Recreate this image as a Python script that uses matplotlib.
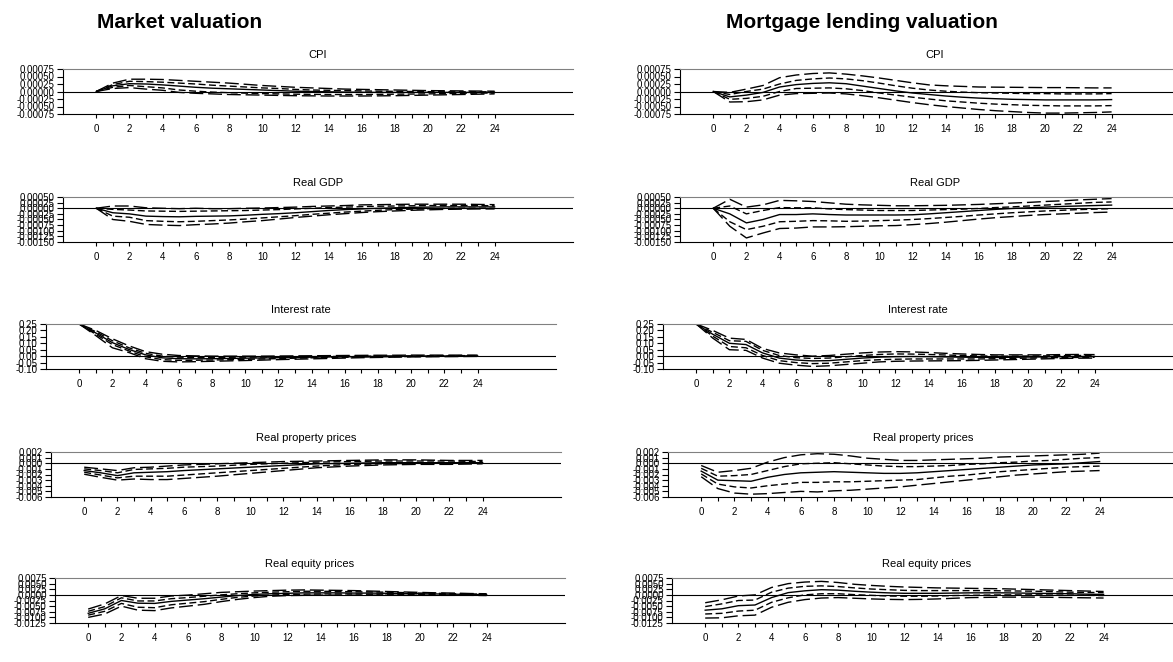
import numpy as np
import matplotlib
matplotlib.use('Agg')
import matplotlib.pyplot as plt

plt.rcParams['font.family'] = ['Liberation Sans', 'DejaVu Sans']

horizon = np.arange(25)

# ---- CPI (x 1e-4) ----
cpi_mkt_hi  = np.array([0, 2.8, 4.1, 4.1, 4.0, 3.7, 3.4, 3.1, 2.8, 2.4, 2.0, 1.7, 1.4, 1.2, 1.0, 0.8, 0.7, 0.6, 0.5, 0.4, 0.3, 0.25, 0.2, 0.15, 0.1]) * 1e-4
cpi_mkt_ihi = np.array([0, 2.3, 3.4, 3.3, 3.1, 2.8, 2.5, 2.1, 1.8, 1.5, 1.2, 1.0, 0.7, 0.5, 0.4, 0.3, 0.2, 0.1, 0.05, 0, -0.05, -0.1, -0.1, -0.1, -0.1]) * 1e-4
cpi_mkt_med = np.array([0, 1.9, 2.6, 2.5, 2.2, 1.8, 1.4, 1.1, 0.9, 0.7, 0.5, 0.3, 0.1, 0, -0.1, -0.2, -0.25, -0.3, -0.3, -0.3, -0.3, -0.3, -0.3, -0.3, -0.3]) * 1e-4
cpi_mkt_ilo = np.array([0, 1.4, 2.0, 1.6, 1.2, 0.5, 0.1, -0.2, -0.4, -0.55, -0.7, -0.8, -0.9, -0.95, -1.0, -1.0, -1.0, -0.95, -0.9, -0.85, -0.8, -0.7, -0.6, -0.55, -0.5]) * 1e-4
cpi_mkt_lo  = np.array([0, 1.0, 1.3, 0.8, 0.4, -0.3, -0.6, -0.8, -1.0, -1.1, -1.2, -1.3, -1.4, -1.45, -1.5, -1.5, -1.5, -1.45, -1.4, -1.3, -1.2, -1.1, -1.0, -0.9, -0.8]) * 1e-4

cpi_mlv_hi  = np.array([0, -0.3, 0.8, 2.0, 4.6, 5.5, 6.0, 6.2, 5.8, 5.2, 4.5, 3.7, 2.9, 2.2, 1.9, 1.7, 1.5, 1.45, 1.4, 1.35, 1.3, 1.3, 1.25, 1.2, 1.2]) * 1e-4
cpi_mlv_ihi = np.array([0, -1.0, 0.0, 0.8, 2.5, 3.7, 4.2, 4.5, 4.2, 3.6, 2.8, 1.9, 1.1, 0.5, 0.1, -0.2, -0.4, -0.5, -0.6, -0.7, -0.7, -0.8, -0.8, -0.8, -0.7]) * 1e-4
cpi_mlv_med = np.array([0, -1.8, -1.2, -0.3, 1.5, 2.3, 2.7, 2.9, 2.6, 1.8, 1.0, 0.2, -0.5, -1.0, -1.5, -1.9, -2.2, -2.4, -2.6, -2.7, -2.8, -2.8, -2.8, -2.8, -2.7]) * 1e-4
cpi_mlv_ilo = np.array([0, -2.6, -2.3, -1.6, 0.0, 1.0, 1.1, 1.2, 0.9, 0.3, -0.5, -1.2, -1.9, -2.5, -3.1, -3.5, -3.9, -4.2, -4.4, -4.6, -4.7, -4.8, -4.8, -4.8, -4.7]) * 1e-4
cpi_mlv_lo  = np.array([0, -3.5, -3.4, -2.8, -1.2, -0.7, -0.6, -0.5, -0.8, -1.4, -2.1, -2.9, -3.7, -4.4, -5.0, -5.5, -6.0, -6.4, -6.7, -7.0, -7.2, -7.2, -7.1, -7.0, -6.8]) * 1e-4

# ---- Real GDP (x 1e-4) ----
gdp_mkt_hi  = np.array([0, 1.0, 1.0, 0.2, 0.0, -0.2, 0.0, -0.2, -0.2, 0.0, 0.1, 0.3, 0.5, 0.8, 1.0, 1.2, 1.5, 1.6, 1.7, 1.8, 1.8, 1.8, 1.8, 1.7, 1.6]) * 1e-4
gdp_mkt_ihi = np.array([0, -0.5, -0.8, -1.2, -1.3, -1.4, -1.3, -1.2, -1.1, -1.0, -0.8, -0.6, -0.3, 0.0, 0.3, 0.5, 0.7, 0.9, 1.0, 1.1, 1.2, 1.2, 1.2, 1.2, 1.1]) * 1e-4
gdp_mkt_med = np.array([0, -2.0, -2.5, -3.5, -3.7, -3.8, -3.6, -3.5, -3.4, -3.1, -2.7, -2.4, -2.0, -1.5, -1.0, -0.6, -0.3, 0.0, 0.2, 0.4, 0.5, 0.6, 0.6, 0.6, 0.6]) * 1e-4
gdp_mkt_ilo = np.array([0, -3.5, -4.0, -5.5, -5.8, -6.0, -5.8, -5.5, -5.2, -4.8, -4.3, -3.8, -3.3, -2.7, -2.2, -1.7, -1.3, -0.9, -0.6, -0.4, -0.2, -0.1, 0.0, 0.0, 0.0]) * 1e-4
gdp_mkt_lo  = np.array([0, -5.0, -5.8, -7.2, -7.5, -7.7, -7.3, -7.0, -6.6, -6.0, -5.5, -4.8, -4.1, -3.5, -2.9, -2.4, -1.9, -1.5, -1.2, -0.9, -0.7, -0.5, -0.4, -0.3, -0.3]) * 1e-4

gdp_mlv_hi  = np.array([0, 4.0, 0.5, 1.5, 3.5, 3.3, 3.0, 2.4, 1.8, 1.5, 1.3, 1.1, 1.1, 1.2, 1.3, 1.5, 1.7, 2.0, 2.3, 2.6, 3.0, 3.3, 3.7, 4.0, 4.3]) * 1e-4
gdp_mlv_ihi = np.array([0, 1.0, -2.5, -1.0, 0.3, 0.2, 0.2, -0.3, -0.6, -0.8, -1.0, -1.0, -1.0, -0.8, -0.6, -0.4, -0.1, 0.3, 0.6, 1.0, 1.4, 1.8, 2.2, 2.6, 2.8]) * 1e-4
gdp_mlv_med = np.array([0, -2.5, -6.5, -5.0, -2.8, -2.8, -2.5, -2.8, -3.0, -3.0, -3.0, -3.0, -2.9, -2.5, -2.0, -1.5, -1.0, -0.5, -0.1, 0.2, 0.5, 0.8, 1.0, 1.2, 1.4]) * 1e-4
gdp_mlv_ilo = np.array([0, -6.0, -9.5, -8.0, -6.0, -5.8, -5.5, -5.6, -5.8, -5.7, -5.5, -5.3, -5.0, -4.6, -4.1, -3.6, -3.0, -2.5, -2.0, -1.6, -1.2, -0.9, -0.6, -0.4, -0.2]) * 1e-4
gdp_mlv_lo  = np.array([0, -8.0, -13.2, -11.0, -9.0, -8.8, -8.3, -8.3, -8.2, -8.0, -7.8, -7.7, -7.3, -6.8, -6.2, -5.5, -4.8, -4.2, -3.7, -3.2, -2.8, -2.5, -2.2, -1.9, -1.7]) * 1e-4

# ---- Interest rate ----
int_mkt_hi  = [0.25, 0.20, 0.135, 0.08, 0.035, 0.015, 0.005, 0.002, 0.0, 0.0, 0.0, 0.0, 0.001, 0.002, 0.003, 0.004, 0.005, 0.006, 0.007, 0.007, 0.008, 0.008, 0.008, 0.008, 0.008]
int_mkt_ihi = [0.25, 0.19, 0.12, 0.065, 0.022, 0.0, -0.008, -0.01, -0.01, -0.009, -0.008, -0.007, -0.006, -0.005, -0.004, -0.003, -0.002, -0.001, 0.0, 0.001, 0.002, 0.003, 0.003, 0.004, 0.004]
int_mkt_med = [0.25, 0.18, 0.105, 0.052, 0.01, -0.013, -0.02, -0.021, -0.02, -0.018, -0.016, -0.014, -0.012, -0.01, -0.008, -0.006, -0.005, -0.003, -0.002, -0.001, 0.0, 0.001, 0.001, 0.002, 0.002]
int_mkt_ilo = [0.25, 0.17, 0.09, 0.04, -0.005, -0.027, -0.033, -0.032, -0.03, -0.028, -0.025, -0.022, -0.019, -0.016, -0.013, -0.011, -0.009, -0.007, -0.005, -0.004, -0.003, -0.002, -0.001, -0.001, 0.0]
int_mkt_lo  = [0.25, 0.16, 0.065, 0.028, -0.02, -0.04, -0.045, -0.043, -0.04, -0.037, -0.034, -0.031, -0.027, -0.024, -0.021, -0.018, -0.015, -0.012, -0.01, -0.008, -0.006, -0.005, -0.004, -0.003, -0.002]

int_mlv_hi  = [0.25, 0.20, 0.14, 0.13, 0.06, 0.025, 0.01, 0.0, 0.005, 0.015, 0.025, 0.032, 0.035, 0.033, 0.028, 0.022, 0.017, 0.013, 0.01, 0.01, 0.01, 0.01, 0.012, 0.013, 0.012]
int_mlv_ihi = [0.25, 0.185, 0.12, 0.115, 0.045, 0.005, -0.012, -0.018, -0.015, -0.005, 0.005, 0.013, 0.017, 0.016, 0.013, 0.009, 0.005, 0.002, 0.0, 0.0, 0.001, 0.002, 0.004, 0.005, 0.005]
int_mlv_med = [0.25, 0.17, 0.10, 0.09, 0.025, -0.015, -0.03, -0.037, -0.035, -0.025, -0.015, -0.008, -0.004, -0.003, -0.004, -0.006, -0.008, -0.009, -0.01, -0.009, -0.007, -0.006, -0.004, -0.003, -0.002]
int_mlv_ilo = [0.25, 0.155, 0.075, 0.065, 0.005, -0.035, -0.05, -0.058, -0.055, -0.045, -0.035, -0.028, -0.024, -0.022, -0.022, -0.022, -0.022, -0.022, -0.02, -0.018, -0.015, -0.013, -0.011, -0.01, -0.009]
int_mlv_lo  = [0.25, 0.14, 0.05, 0.045, -0.015, -0.055, -0.07, -0.08, -0.075, -0.065, -0.055, -0.045, -0.04, -0.038, -0.037, -0.036, -0.035, -0.033, -0.03, -0.027, -0.024, -0.021, -0.018, -0.016, -0.015]

# ---- Real property prices (x 1e-4) ----
prop_mkt_hi  = np.array([-7, -10, -13, -8, -7, -5, -3, -2, -1, 0, 1, 2, 3, 3.5, 4, 4.5, 5, 5.5, 6, 6, 6, 5.5, 5, 5, 5]) * 1e-4
prop_mkt_ihi = np.array([-10, -13, -17, -11, -10, -9, -7, -6, -5, -3.5, -2, -1, 0, 1, 2, 2.5, 3, 3.5, 4, 4, 4, 4, 4, 3.5, 3]) * 1e-4
prop_mkt_med = np.array([-13, -17, -22, -17, -16, -15, -13, -11.5, -10, -8.5, -7, -5.5, -4, -2.5, -1, -0.5, 0, 0.5, 1, 1, 1, 1, 1, 1, 1]) * 1e-4
prop_mkt_ilo = np.array([-16, -21, -26, -23, -23, -23, -21, -19, -17, -15, -13, -11, -9, -7, -5, -3.5, -2, -1.5, -1, -0.5, 0, 0, 0, 0, 0]) * 1e-4
prop_mkt_lo  = np.array([-19.5, -25, -30, -28, -29, -29, -27, -25, -23, -20.5, -18, -15.5, -13, -10.5, -8, -6.5, -5, -4, -3, -2.5, -2, -2, -2, -1.5, -1]) * 1e-4

prop_mlv_hi  = np.array([-4, -16, -13, -9, 2, 10, 15, 17, 16, 13, 9, 7, 5, 5, 6, 7, 8, 9, 11, 12, 13, 14, 15, 16, 18]) * 1e-4
prop_mlv_ihi = np.array([-9, -23, -22, -20, -13, -6, -1, 0, 1, -1, -3, -5, -6, -6, -5, -4, -2, -1, 1, 2, 4, 5, 7, 9, 10]) * 1e-4
prop_mlv_med = np.array([-14, -30, -31, -32, -25, -20, -17, -16, -15, -16, -17, -18, -18, -17, -15, -13, -11, -9, -7, -5, -3, -2, -1, 1, 3]) * 1e-4
prop_mlv_ilo = np.array([-19, -37, -42, -44, -40, -37, -34, -34, -33, -33, -32, -31, -30, -29, -26, -23, -21, -18, -15, -13, -11, -9, -7, -6, -5]) * 1e-4
prop_mlv_lo  = np.array([-24, -45, -53, -55, -54, -52, -50, -51, -49, -48, -46, -44, -42, -39, -36, -33, -30, -27, -24, -21, -19, -17, -15, -14, -13]) * 1e-4

# ---- Real equity prices (x 1e-4) ----
eq_mkt_hi  = np.array([-63, -40, -3, -15, -15, -5, -1, 5, 11, 14, 17, 19, 21, 22, 21, 20, 19, 17, 15, 13, 11, 9, 8, 6, 5]) * 1e-4
eq_mkt_ihi = np.array([-73, -52, -13, -27, -27, -17, -12, -6, 0, 5, 9, 12, 14, 16, 16, 15, 14, 13, 12, 10, 8, 7, 5, 4, 3]) * 1e-4
eq_mkt_med = np.array([-82, -62, -25, -37, -38, -29, -23, -17, -10, -3, 2, 5, 7, 9, 9, 9, 8, 8, 7, 6, 5, 4, 3, 2, 1]) * 1e-4
eq_mkt_ilo = np.array([-90, -73, -38, -55, -57, -44, -37, -30, -20, -11, -5, -1, 2, 3, 4, 4, 4, 3, 3, 2, 2, 1, 1, 0, 0]) * 1e-4
eq_mkt_lo  = np.array([-100, -85, -50, -68, -70, -58, -50, -42, -30, -20, -12, -6, -3, -2, -1, -1, -1, -1, -1, -2, -2, -2, -2, -2, -3]) * 1e-4

eq_mlv_hi  = np.array([-35, -22, -5, 0, 33, 50, 57, 60, 55, 47, 42, 38, 35, 33, 31, 30, 29, 28, 27, 25, 23, 21, 19, 17, 15]) * 1e-4
eq_mlv_ihi = np.array([-52, -40, -25, -23, 12, 30, 38, 40, 37, 31, 26, 23, 20, 19, 19, 19, 19, 19, 18, 17, 16, 14, 12, 11, 10]) * 1e-4
eq_mlv_med = np.array([-68, -62, -48, -45, -12, 10, 18, 23, 21, 16, 12, 9, 7, 7, 7, 8, 9, 9, 9, 8, 7, 6, 5, 3, 2]) * 1e-4
eq_mlv_ilo = np.array([-85, -82, -72, -68, -33, -13, 0, 5, 5, 1, -2, -5, -6, -6, -5, -3, -2, -1, 0, 0, 0, -1, -1, -2, -3]) * 1e-4
eq_mlv_lo  = np.array([-103, -102, -93, -90, -55, -33, -21, -14, -12, -15, -18, -20, -21, -20, -18, -15, -12, -11, -10, -10, -10, -11, -12, -13, -14]) * 1e-4

panel_titles = ['CPI', 'Real GDP', 'Interest rate', 'Real property prices', 'Real equity prices']
column_titles = ['Market valuation', 'Mortgage lending valuation']

ytick_sets = [
    (np.arange(-3, 4) * 0.00025, '%.5f'),
    (np.arange(-6, 3) * 0.00025, '%.5f'),
    (np.arange(-2, 6) * 0.05, '%.2f'),
    (np.arange(-6, 3) * 0.001, '%.3f'),
    (np.arange(-5, 4) * 0.0025, '%.4f'),
]

market = [
    (cpi_mkt_hi, cpi_mkt_ihi, cpi_mkt_med, cpi_mkt_ilo, cpi_mkt_lo),
    (gdp_mkt_hi, gdp_mkt_ihi, gdp_mkt_med, gdp_mkt_ilo, gdp_mkt_lo),
    (int_mkt_hi, int_mkt_ihi, int_mkt_med, int_mkt_ilo, int_mkt_lo),
    (prop_mkt_hi, prop_mkt_ihi, prop_mkt_med, prop_mkt_ilo, prop_mkt_lo),
    (eq_mkt_hi, eq_mkt_ihi, eq_mkt_med, eq_mkt_ilo, eq_mkt_lo),
]
mortgage = [
    (cpi_mlv_hi, cpi_mlv_ihi, cpi_mlv_med, cpi_mlv_ilo, cpi_mlv_lo),
    (gdp_mlv_hi, gdp_mlv_ihi, gdp_mlv_med, gdp_mlv_ilo, gdp_mlv_lo),
    (int_mlv_hi, int_mlv_ihi, int_mlv_med, int_mlv_ilo, int_mlv_lo),
    (prop_mlv_hi, prop_mlv_ihi, prop_mlv_med, prop_mlv_ilo, prop_mlv_lo),
    (eq_mlv_hi, eq_mlv_ihi, eq_mlv_med, eq_mlv_ilo, eq_mlv_lo),
]

W, H = 1173, 662
fig = plt.figure(figsize=(W / 100, H / 100), dpi=100)

row_tops = [69, 197, 324, 452, 578]
spine_x = [63, 63, 46, 51, 55]
col_offset = 617
ax_w, ax_h = 510, 45
px_per_unit = 16.6

long_dash = (10, 3.5)
short_dash = (5, 2.5)


def draw_panel(ax, lines, title, yticks, fmt):
    hi, ihi, med, ilo, lo = lines
    ax.axhline(0, color='black', lw=0.8)
    ax.plot(horizon, hi, color='black', lw=1.0, dashes=long_dash)
    ax.plot(horizon, ihi, color='black', lw=1.0, dashes=short_dash)
    ax.plot(horizon, med, color='black', lw=1.0)
    ax.plot(horizon, ilo, color='black', lw=1.0, dashes=short_dash)
    ax.plot(horizon, lo, color='black', lw=1.0, dashes=long_dash)
    ax.set_xlim(-2.0, -2.0 + ax_w / px_per_unit)
    ax.set_ylim(yticks[0], yticks[-1])
    ax.set_xticks(horizon)
    ax.set_xticklabels([str(t) if t % 2 == 0 else '' for t in horizon])
    labels = []
    for v in yticks:
        s = fmt % v
        if abs(v) < 1e-12:
            s = s.lstrip('-')
        labels.append(s)
    ax.set_yticks(yticks)
    ax.set_yticklabels(labels)
    ax.tick_params(axis='both', direction='out', width=0.8, labelsize=7, colors='black')
    ax.tick_params(axis='x', length=3, pad=4)
    ax.tick_params(axis='y', length=4, pad=2)
    ax.spines['right'].set_visible(False)
    ax.spines['top'].set_color('#808080')
    ax.set_title(title, fontsize=8, pad=8)


for col, data in enumerate([market, mortgage]):
    for row in range(5):
        left = spine_x[row] + col * col_offset
        top = row_tops[row]
        ax = fig.add_axes([left / W, 1 - (top + ax_h) / H, ax_w / W, ax_h / H])
        yt, fmt = ytick_sets[row]
        draw_panel(ax, data[row], panel_titles[row], yt, fmt)

fig.text(180 / W, 1 - 22 / H, column_titles[0], ha='center', va='center', fontsize=15, fontweight='bold')
fig.text(862 / W, 1 - 22 / H, column_titles[1], ha='center', va='center', fontsize=15, fontweight='bold')

fig.savefig('out.png', dpi=100)
